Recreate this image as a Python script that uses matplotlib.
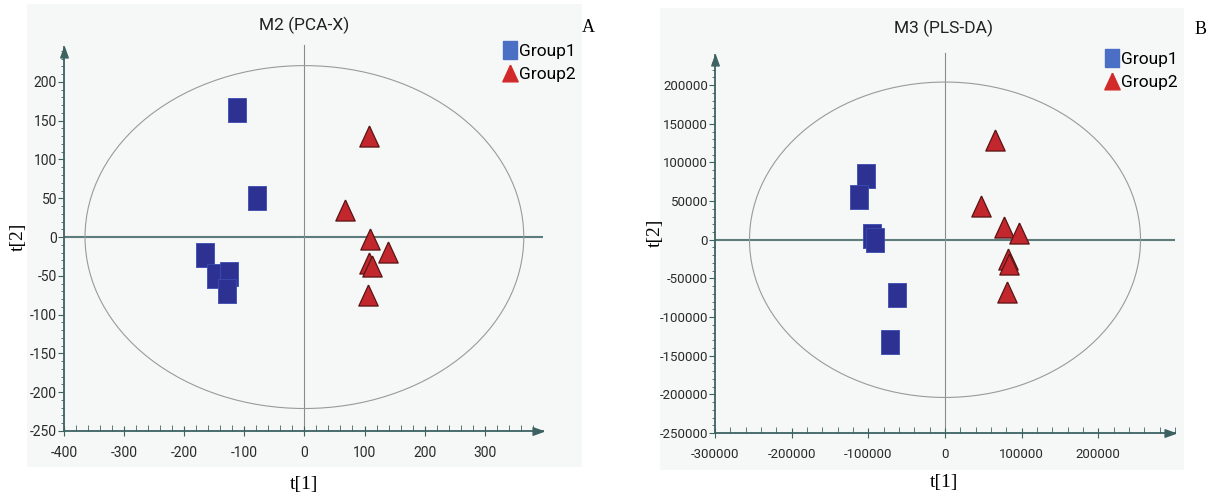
import numpy as np
import matplotlib
matplotlib.use("Agg")
import matplotlib.pyplot as plt
from matplotlib.patches import Ellipse, Rectangle
from matplotlib.lines import Line2D
from matplotlib.ticker import MultipleLocator

plt.rcParams['axes.unicode_minus'] = False

# --- data ---
# panel A: M2 (PCA-X)
pca_g1_x = [-112, -79, -166, -147, -126, -128]
pca_g1_y = [164, 50, -23, -50, -48, -70]
pca_g2_x = [107, 68, 109, 139, 108, 112, 105]
pca_g2_y = [130, 35, -2, -19, -33, -37, -75]
pca_ellipse = (365, 221)

# panel B: M3 (PLS-DA)
pls_g1_x = [-103000, -111600, -94700, -91700, -62600, -71700]
pls_g1_y = [83000, 55200, 4300, -900, -71500, -132800]
pls_g2_x = [65700, 47000, 76500, 96100, 82600, 84000, 81300]
pls_g2_y = [129300, 43100, 16400, 8700, -24600, -31400, -68100]
pls_ellipse = (255000, 204000)

group_labels = ['Group1', 'Group2']

W, H = 1216, 497
TICK_FONT = ['Roboto', 'DejaVu Sans']
SERIF = ['Liberation Serif', 'DejaVu Serif']
AXIS_COL = '#3d6262'
SQ_COL = '#2d3192'
TRI_COL = '#c1272d'
BG = '#f6f7f7'

square = [(-0.37, -0.5), (0.37, -0.5), (0.37, 0.5), (-0.37, 0.5), (-0.37, -0.5)]
triangle = [(0, 0.5), (-0.46, -0.5), (0.46, -0.5), (0, 0.5)]
arrow_r = [(0, 0), (-1, 0.36), (-1, -0.36), (0, 0)]
arrow_u = [(0, 0), (0.36, -1), (-0.36, -1), (0, 0)]


def fx(px):
    return px / W


def fy(py):
    return 1 - py / H


def panel(fig, box, bg, xlim, ylim, xmaj, ymaj, g1x, g1y, g2x, g2y, ell,
          title, tpos, letter, lpos, legpos, t1pos, t2pos, fs):
    # light grey plot background
    fig.patches.append(Rectangle((fx(bg[0]), fy(bg[3])), fx(bg[2] - bg[0]),
                                 (bg[3] - bg[1]) / H, transform=fig.transFigure,
                                 facecolor=BG, edgecolor='none', zorder=-5))
    ax = fig.add_axes([fx(box[0]), fy(box[3]), fx(box[2] - box[0]),
                       (box[3] - box[1]) / H])
    ax.set_zorder(2)
    ax.set_facecolor('none')
    ax.set_xlim(*xlim)
    ax.set_ylim(*ylim)
    for s in ['top', 'right']:
        ax.spines[s].set_visible(False)
    for s in ['left', 'bottom']:
        ax.spines[s].set_color(AXIS_COL)
        ax.spines[s].set_linewidth(1.3)

    ax.xaxis.set_major_locator(MultipleLocator(xmaj))
    ax.xaxis.set_minor_locator(MultipleLocator(xmaj / 5))
    ax.yaxis.set_major_locator(MultipleLocator(ymaj))
    ax.yaxis.set_minor_locator(MultipleLocator(ymaj / 5))
    ax.set_xticks([t for t in ax.get_xticks() if xlim[0] <= t < xlim[1] - xmaj / 2])
    ax.set_yticks([t for t in ax.get_yticks() if ylim[0] <= t < ylim[1] - ymaj / 2])
    ax.tick_params(axis='x', which='major', direction='inout', length=7,
                   color=AXIS_COL, pad=7, labelsize=fs, labelcolor='#2a2a2a')
    ax.tick_params(axis='x', which='minor', direction='in', length=4, color=AXIS_COL)
    ax.tick_params(axis='y', which='major', direction='out', length=4,
                   color=AXIS_COL, pad=1, labelsize=fs, labelcolor='#2a2a2a')
    ax.tick_params(axis='y', which='minor', direction='out', length=2, color=AXIS_COL)
    for lab in ax.get_xticklabels() + ax.get_yticklabels():
        lab.set_family(TICK_FONT)

    # arrow heads on axes
    ax.plot([1], [0], marker=arrow_r, ms=15, color=AXIS_COL,
            transform=ax.transAxes, clip_on=False)
    ax.plot([0], [1], marker=arrow_u, ms=15, color=AXIS_COL,
            transform=ax.transAxes, clip_on=False)

    # zero lines and Hotelling ellipse
    ax.axhline(0, color='#5d7c7c', lw=1.5, zorder=1)
    ax.plot([0, 0], [ylim[0], ylim[1] * 1.01], color='#8a8a8a', lw=0.8,
            zorder=1, clip_on=False)
    ax.add_patch(Ellipse((0, 0), 2 * ell[0], 2 * ell[1], fill=False,
                         edgecolor='#9a9a9a', lw=0.8, zorder=1))

    ax.scatter(g1x, g1y, marker=square, s=290, c=SQ_COL, edgecolors='#3a4cb0',
               linewidths=0.6, zorder=3)
    ax.scatter(g2x, g2y, marker=triangle, s=230, c=TRI_COL, edgecolors='#5a1414',
               linewidths=0.9, zorder=3)

    handles = [Line2D([], [], ls='none', marker=square, ms=13, color='#4a6fc4'),
               Line2D([], [], ls='none', marker=triangle, ms=12, color='#d22a2a')]
    ax.legend(handles, group_labels, loc='upper left',
              bbox_to_anchor=(fx(legpos[0]), fy(legpos[1])),
              bbox_transform=fig.transFigure, frameon=False, handlelength=0.6,
              handletextpad=0.25, labelspacing=0.45, borderpad=0,
              prop={'family': TICK_FONT, 'size': 12.5})

    fig.text(fx(tpos[0]), fy(tpos[1]), title, ha='center', va='center',
             fontsize=12.5, family=TICK_FONT, color='#222')
    fig.text(fx(lpos[0]), fy(lpos[1]), letter, ha='center', va='center',
             fontsize=13, family=SERIF)
    fig.text(fx(t1pos[0]), fy(t1pos[1]), 't[1]', ha='center', va='center',
             fontsize=14, family=SERIF)
    fig.text(fx(t2pos[0]), fy(t2pos[1]), 't[2]', ha='center', va='center',
             fontsize=14, family=SERIF, rotation=90)
    return ax


fig = plt.figure(figsize=(W / 100, H / 100), dpi=100)
fig.patch.set_facecolor('white')

panel(fig, box=(64, 47, 543, 431), bg=(27, 4, 582, 467),
      xlim=(-400, 397), ylim=(-250, 245), xmaj=100, ymaj=50,
      g1x=pca_g1_x, g1y=pca_g1_y, g2x=pca_g2_x, g2y=pca_g2_y, ell=pca_ellipse,
      title='M2 (PCA-X)', tpos=(304, 25), letter='A', lpos=(588, 27),
      legpos=(496, 35), t1pos=(304, 485), t2pos=(18, 237), fs=10)

panel(fig, box=(715, 55, 1175, 433), bg=(660, 8, 1184, 470),
      xlim=(-300000, 300000), ylim=(-250000, 239000), xmaj=100000, ymaj=50000,
      g1x=pls_g1_x, g1y=pls_g1_y, g2x=pls_g2_x, g2y=pls_g2_y, ell=pls_ellipse,
      title='M3 (PLS-DA)', tpos=(944, 28), letter='B', lpos=(1201, 29),
      legpos=(1098, 43), t1pos=(944, 482), t2pos=(655, 233), fs=9.5)

fig.savefig('out.png', dpi=100)
